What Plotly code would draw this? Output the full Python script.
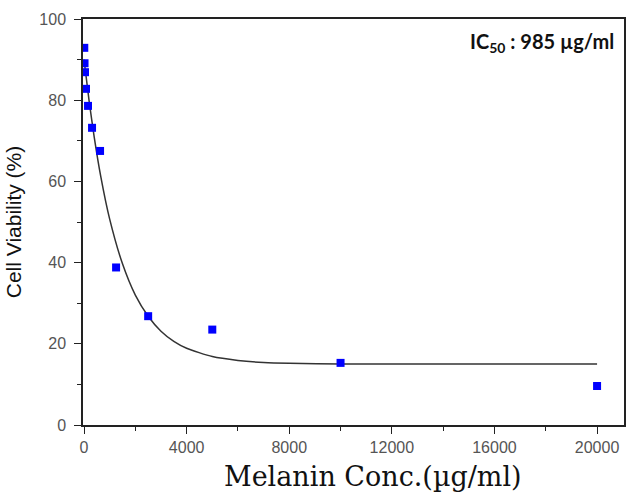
import plotly.graph_objects as go

conc = [9.77, 19.5, 39, 78, 156, 312.5, 625, 1250, 2500, 5000, 10000, 20000]
viability = [92.9, 89.1, 86.9, 82.8, 78.6, 73.2, 67.5, 38.8, 26.8, 23.5, 15.3, 9.6]

fit_x = [0, 200, 400, 650, 1000, 1500, 2000, 2500, 3000, 3500, 4000, 5000, 6000, 7000, 8000, 10000, 14000, 20000]
fit_y = [90, 79.7, 70.8, 61.3, 50.7, 39.7, 32.0, 26.8, 23.1, 20.6, 18.9, 16.85, 15.9, 15.4, 15.2, 15.05, 15.0, 15.0]

x_ticks = [0, 4000, 8000, 12000, 16000, 20000]
y_ticks = [0, 20, 40, 60, 80, 100]

fig = go.Figure()
fig.add_trace(go.Scatter(x=fit_x, y=fit_y, mode="lines",
                         line=dict(color="#333333", width=1.5, shape="spline", smoothing=0.6),
                         showlegend=False, hoverinfo="skip"))
fig.add_trace(go.Scatter(x=conc, y=viability, mode="markers",
                         marker=dict(symbol="square", size=8, color="#0000FF"),
                         showlegend=False))

fig.update_layout(
    width=629, height=492,
    margin=dict(l=83, r=3, t=19, b=67),
    plot_bgcolor="white", paper_bgcolor="white",
    font=dict(family="Liberation Sans, Arial", color="#555555", size=16),
)
fig.update_xaxes(
    range=[-40, 21050], tickvals=x_ticks, ticktext=[str(v) for v in x_ticks],
    showgrid=False, zeroline=False,
    showline=True, linecolor="#222222", linewidth=1.5, mirror=True,
    ticks="outside", ticklen=7, tickcolor="#222222",
    minor=dict(tickvals=[2000, 6000, 10000, 14000, 18000], ticks="outside", ticklen=4, tickcolor="#222222"),
    tickfont=dict(size=16, color="#555555"),
)
fig.update_yaxes(
    range=[0, 100], tickvals=y_ticks, ticktext=[str(v) for v in y_ticks],
    showgrid=False, zeroline=False,
    showline=True, linecolor="#222222", linewidth=1.5, mirror=True,
    ticks="outside", ticklen=7, tickcolor="#222222",
    minor=dict(tickvals=[10, 30, 50, 70, 90], ticks="outside", ticklen=4, tickcolor="#222222"),
    tickfont=dict(size=16, color="#555555"),
    ticklabelstandoff=5,
    title=dict(text="Cell Viability (%)", font=dict(family="Liberation Sans, Arial", size=21, color="#111111"), standoff=12),
)
# x-axis title (offset to the right of the plot centre, as in the reference)
fig.add_annotation(
    x=0.536, y=-0.127, xref="paper", yref="paper", xanchor="center", yanchor="middle",
    text="Melanin Conc.(µg/ml)", showarrow=False,
    font=dict(family="DejaVu Serif", size=27, color="#111111"),
)
fig.add_annotation(
    x=0.985, y=0.98, xref="paper", yref="paper", xanchor="right", yanchor="top",
    text="<b>IC<sub>50</sub> : 985 µg/ml</b>", showarrow=False,
    font=dict(family="Lato, Open Sans", size=20, color="#111111"),
)
fig.write_html("out.html")
